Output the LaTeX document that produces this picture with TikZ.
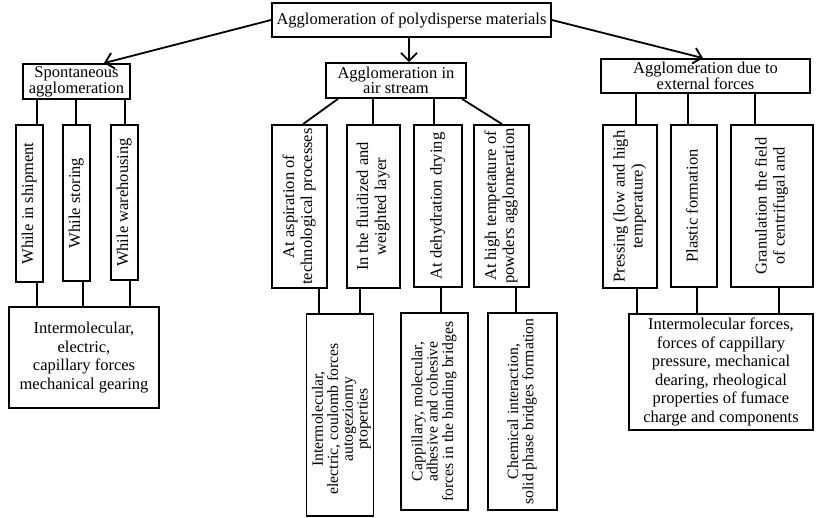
\documentclass[tikz,border=0pt]{standalone}
\usepackage{fontspec}
\usepackage{graphicx}
\setmainfont{Liberation Serif}
\usetikzlibrary{calc,arrows.meta}
\newcommand\rtext[1]{\rotatebox{90}{\begin{tabular}{@{}c@{}}#1\end{tabular}}}
\tikzset{
  box/.style={draw, line width=1.8pt, inner sep=0pt, align=center,
    font=\fontsize{16.5}{14}\selectfont},
  tall/.style={font=\fontsize{16.5}{18.5}\selectfont},
  rot/.style={font=\fontsize{16.5}{18}\selectfont},
  rotb/.style={font=\fontsize{15.7}{14.5}\selectfont},
  wire/.style={line width=1.8pt},
  arr/.style={line width=1.8pt, -{Straight Barb[length=8pt,width=16pt]}},
}
\begin{document}
\begin{tikzpicture}[x=1pt,y=-1pt]
\useasboundingbox (0,0) rectangle (817,518);
% helper x positions
\foreach \xx in {37,76,83,125,130,303,319,338,360,373,409,434,441,462,502,516,636,637,688,697,703,104,755,779}
  \coordinate (c\xx) at (\xx,0);

% top level
\node[box, minimum width=279pt, minimum height=34pt] (T) at (411.5,20) {Agglomeration of polydisperse materials};
\node[box, minimum width=107pt, minimum height=35pt] (S) at (76.5,81.5) {Spontaneous\\agglomeration};
\node[box, minimum width=140pt, minimum height=35pt] (A) at (396,80.5) {Agglomeration in\\air stream};
\node[box, minimum width=209pt, minimum height=34pt] (E) at (705.5,76) {Agglomeration due to\\external forces};

\draw[arr] (T.west) -- (S.north -| c104);
\draw[arr] (T.south -| c409) -- (A.north -| c409);
\draw[arr] (T.east) -- (E.north -| c703);

% left branch
\node[box, rot, minimum width=27pt, minimum height=157pt] (L1) at (29.5,203.5) {\rtext{While in shipment}};
\node[box, rot, minimum width=27pt, minimum height=156pt] (L2) at (76.5,203) {\rtext{While storing}};
\node[box, rot, minimum width=27pt, minimum height=155pt] (L3) at (124.5,202.5) {\rtext{While warehousing}};
\node[box, tall, minimum width=150pt, minimum height=101pt] (LB) at (84,357.5)
  {Intermolecular,\\electric,\\capillary forces\\mechanical gearing};

\draw[wire] (S.south -| c37) -- (L1.north -| c37);
\draw[wire] (S.south -| c76) -- (L2.north -| c76);
\draw[wire] (S.south -| c125) -- (L3.north -| c125);
\draw[wire] (L1.south -| c37) -- (LB.north -| c37);
\draw[wire] (L2.south -| c83) -- (LB.north -| c83);
\draw[wire] (L3.south -| c130) -- (LB.north -| c130);

% middle branch
\node[box, rot, minimum width=55pt, minimum height=163pt] (M1) at (299.5,206.5) {\rtext{At aspiration of\\technological processes}};
\node[box, rot, minimum width=53pt, minimum height=163pt] (M2) at (373.5,206.5) {\rtext{In the fluidized and\\weighted layer}};
\node[box, rot, minimum width=48pt, minimum height=162pt] (M3) at (438,206) {\rtext{At dehydration drying}};
\node[box, rot, minimum width=55pt, minimum height=162pt] (M4) at (501.5,206) {\rtext{At high tempetature of\\powders agglomeration}};

\node[box, minimum width=67pt, minimum height=202pt] (MB1) at (340,415) {};
\node[rotb, inner sep=0pt] (MB1t) at (342,419) {\rtext{Intermolecular,\\electric, coulomb forces\\autogezionny\\ptoperties}};
\node[box, rotb, minimum width=67pt, minimum height=197pt] (MB2) at (434.5,411.5) {\rtext{Cappillary, molecular,\\adhesive and cohesive\\forces in the binding bridges}};
\node[box, rotb, minimum width=69pt, minimum height=197pt] (MB3) at (522.5,411.5) {\rtext{Chemical interaction,\\solid phase bridges formation}};

\draw[wire] (A.south -| c338) -- (M1.north -| c303);
\draw[wire] (A.south -| c373) -- (M2.north -| c373);
\draw[wire] (A.south -| c434) -- (M3.north -| c434);
\draw[wire] (A.south -| c462) -- (M4.north -| c502);
\draw[wire] (M1.south -| c319) -- (MB1.north -| c319);
\draw[wire] (M2.south -| c360) -- (MB1.north -| c360);
\draw[wire] (M3.south -| c441) -- (MB2.north -| c441);
\draw[wire] (M4.south -| c516) -- (MB3.north -| c516);

% right branch
\node[box, rot, minimum width=54pt, minimum height=163pt] (R1) at (630,206.5) {\rtext{Pressing (low and high\\temperature)}};
\node[box, rot, minimum width=46pt, minimum height=162pt] (R2) at (694,206) {\rtext{Plastic formation}};
\node[box, rot, minimum width=82pt, minimum height=162pt] (R3) at (772,206) {\rtext{Granulation the field\\of centrifugal and}};
\node[box, tall, minimum width=184pt, minimum height=116pt] (RB) at (721,372)
  {Intermolecular forces,\\forces of cappillary\\pressure, mechanical\\dearing, rheological\\properties of fumace\\charge and components};

\draw[wire] (E.south -| c636) -- (R1.north -| c636);
\draw[wire] (E.south -| c688) -- (R2.north -| c688);
\draw[wire] (E.south -| c755) -- (R3.north -| c755);
\draw[wire] (R1.south -| c637) -- (RB.north -| c637);
\draw[wire] (R2.south -| c697) -- (RB.north -| c697);
\draw[wire] (R3.south -| c779) -- (RB.north -| c779);
\end{tikzpicture}
\end{document}
